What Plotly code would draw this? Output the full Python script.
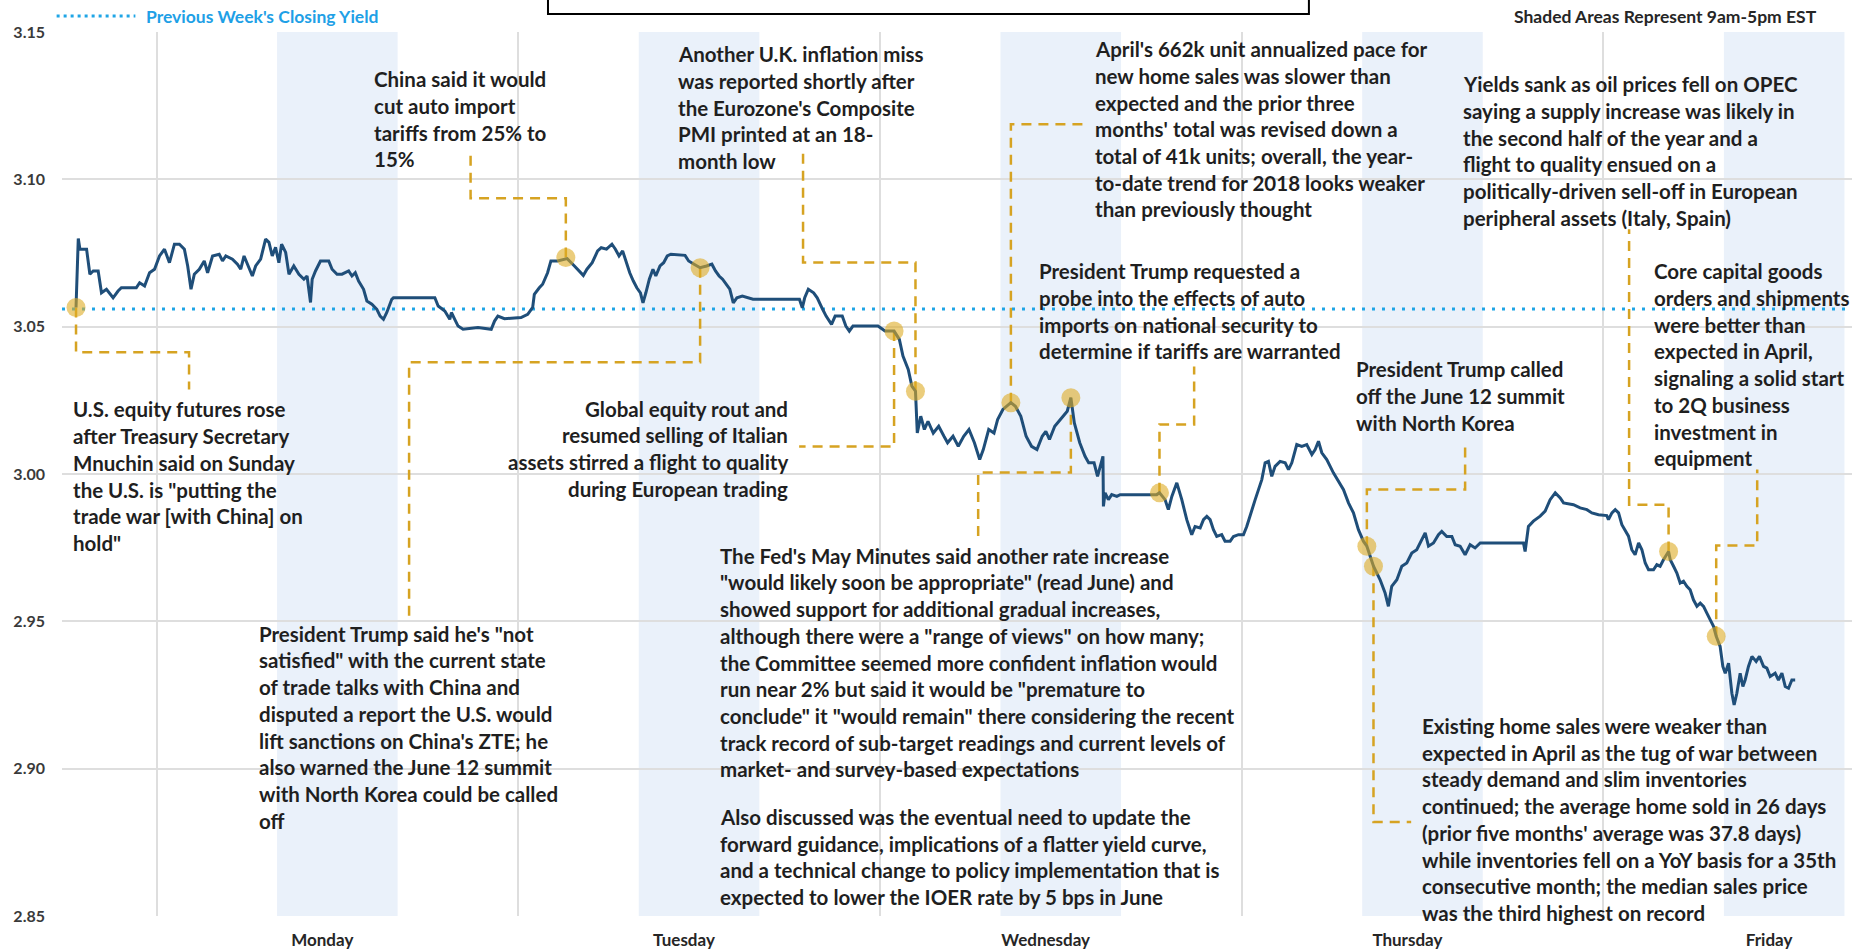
import plotly.graph_objects as go

# ---------------- data ----------------
# x: hours since Sunday 00:00 (week of May 21-25, 2018); y: 10-year Treasury yield (%)
hours = [
    19.66, 19.81, 19.92, 20.36, 20.58, 20.80, 21.13, 21.35, 21.68, 22.12, 22.45, 22.67, 23.66, 23.88,
    24.21, 24.54, 24.87, 25.20, 25.53, 25.86, 26.19, 26.52, 26.85, 27.07, 27.29, 27.51, 27.84, 28.17,
    28.39, 28.72, 29.16, 29.38, 29.60, 30.04, 30.37, 30.59, 30.81, 31.03, 31.36, 31.58, 31.91, 32.24,
    32.46, 32.68, 32.90, 33.12, 33.30, 33.57, 33.79, 34.11, 34.45, 34.78, 34.99, 35.22, 35.33, 35.55,
    35.88, 36.43, 36.65, 36.98, 37.31, 37.75, 37.97, 38.19, 38.41, 38.74, 38.96, 39.29, 39.62, 39.84,
    40.06, 40.28, 40.61, 40.72, 43.47, 43.69, 44.13, 44.46, 44.57, 44.79, 45.01, 45.34, 46.33, 47.21,
    47.43, 47.65, 48.09, 49.19, 49.63, 49.96, 50.07, 50.40, 50.62, 50.95, 51.17, 51.61, 52.05,
    52.25, 52.73, 53.08, 53.32, 53.56, 53.91, 54.27, 54.51, 54.86, 55.22, 55.45, 55.69, 55.93, 56.16,
    56.40, 56.64, 56.87, 57.11, 57.28, 57.47, 57.70, 57.94, 58.13, 58.41, 58.65, 58.89, 59.13, 60.07,
    60.31, 60.67, 61.07, 61.50, 61.85, 62.09, 62.33, 62.56, 62.80, 63.04, 63.27, 63.51, 63.87, 64.34,
    64.58, 67.66, 67.85, 68.01, 68.25, 68.60, 68.84, 69.20, 69.43, 69.79, 70.03, 70.50, 70.74, 70.97,
    71.21, 72.87, 73.34, 73.94, 74.29, 74.53, 74.88, 75.12, 75.36, 75.48, 75.71, 75.95, 76.19, 76.54,
    76.90, 77.25, 77.49, 77.85, 78.20, 78.56, 78.91, 79.27, 79.62, 79.86, 80.22, 80.57, 80.81, 81.16,
    81.69, 81.99, 82.35, 82.70, 83.06, 83.42, 83.77, 84.01, 84.25, 84.60, 84.96, 85.43, 85.67, 85.90,
    86.26, 86.61, 86.85, 87.21, 87.44, 87.80,
    87.83, 87.94, 88.16, 88.38, 88.72, 88.94, 91.37, 91.55, 91.92, 92.14, 92.37, 92.70, 93.03, 93.36,
    93.69, 93.91, 94.25, 94.47, 94.69, 94.91, 95.13, 95.35, 95.68, 95.90, 96.24, 96.46, 96.79, 97.12,
    97.34, 97.67, 97.90, 98.12, 98.34, 98.56, 98.78, 99.00, 99.22, 99.55, 99.89, 100.11, 100.33, 100.66,
    100.99, 101.32, 101.66, 101.88, 102.10, 102.32, 102.65, 103.09, 103.42, 103.76, 104.09, 104.42,
    104.75, 105.08, 105.31, 105.64, 105.75, 106.19, 106.52, 106.74, 106.96, 107.30, 107.63, 107.96,
    108.29, 108.62, 108.95, 109.18, 109.40, 109.73, 110.06, 110.28, 110.61, 110.95, 111.17, 111.50,
    111.83, 112.16, 112.49, 112.83, 115.70, 115.81, 116.03, 116.36,
    116.81, 117.14, 117.47, 117.81, 118.14, 118.36, 119.02, 119.46, 119.91, 120.24, 120.68, 121.23,
    121.34, 121.57, 121.79, 122.01, 122.23, 122.45, 122.67, 122.89, 123.11, 123.34, 123.56, 123.78,
    124.00, 124.33, 124.55, 124.77, 124.99, 125.33, 125.44, 125.66, 125.88, 126.10, 126.32, 126.54,
    126.76, 126.98, 127.21, 127.43, 127.65, 127.87, 128.09, 128.31, 128.49, 128.75, 128.93, 129.09,
    129.31, 129.53, 129.68, 129.86, 130.08, 130.26, 130.41, 130.63, 130.86, 131.14, 131.36, 131.63,
    131.85, 132.07, 132.40, 132.62, 132.85, 133.07, 133.29, 133.51, 133.73,
]
yields = [
    3.0565, 3.0799, 3.0763, 3.0763, 3.0678, 3.0689, 3.0689, 3.0615, 3.0627, 3.0598, 3.0621, 3.0632, 3.0632, 3.0649,
    3.0638, 3.0683, 3.0695, 3.0740, 3.0763, 3.0717, 3.0780, 3.0780, 3.0763, 3.0706, 3.0627, 3.0678, 3.0695, 3.0723,
    3.0683, 3.0740, 3.0746, 3.0723, 3.0740, 3.0729, 3.0712, 3.0695, 3.0740, 3.0712, 3.0672, 3.0706, 3.0729, 3.0797,
    3.0786, 3.0740, 3.0769, 3.0717, 3.0780, 3.0752, 3.0678, 3.0706, 3.0678, 3.0661, 3.0672, 3.0582, 3.0661, 3.0689,
    3.0723, 3.0723, 3.0695, 3.0678, 3.0678, 3.0689, 3.0672, 3.0683, 3.0655, 3.0627, 3.0587, 3.0576, 3.0559, 3.0536,
    3.0525, 3.0548, 3.0593, 3.0598, 3.0598, 3.0570, 3.0553, 3.0525, 3.0548, 3.0525, 3.0502, 3.0491, 3.0497, 3.0491,
    3.0519, 3.0536, 3.0527, 3.0531, 3.0542, 3.0565, 3.0610, 3.0632, 3.0644, 3.0683, 3.0723, 3.0723, 3.0729,
    3.0731, 3.0706, 3.0689, 3.0674, 3.0695, 3.0717, 3.0757, 3.0768, 3.0763, 3.0780, 3.0763, 3.0740, 3.0757, 3.0717,
    3.0683, 3.0655, 3.0632, 3.0615, 3.0581, 3.0615, 3.0661, 3.0695, 3.0672, 3.0706, 3.0717, 3.0740, 3.0746, 3.0742,
    3.0723, 3.0712, 3.0700, 3.0706, 3.0712, 3.0689, 3.0672, 3.0661, 3.0644, 3.0627, 3.0581, 3.0598, 3.0604, 3.0598,
    3.0593, 3.0593, 3.0564, 3.0598, 3.0627, 3.0615, 3.0598, 3.0559, 3.0536, 3.0508, 3.0536, 3.0536, 3.0502, 3.0485,
    3.0502, 3.0502, 3.0485, 3.0485, 3.0457, 3.0400, 3.0355, 3.0298, 3.0281, 3.0139, 3.0196, 3.0151, 3.0179, 3.0139,
    3.0162, 3.0128, 3.0106, 3.0128, 3.0094, 3.0128, 3.0151, 3.0106, 3.0049, 3.0083, 3.0151, 3.0139, 3.0185, 3.0219,
    3.0242, 3.0230, 3.0196, 3.0128, 3.0094, 3.0083, 3.0128, 3.0145, 3.0117, 3.0162, 3.0185, 3.0213, 3.0259, 3.0173,
    3.0106, 3.0060, 3.0038, 3.0038, 2.9992, 3.0060,
    2.9890, 2.9936, 2.9913, 2.9930, 2.9924, 2.9930, 2.9930, 2.9936, 2.9913, 2.9879, 2.9924, 2.9970, 2.9913, 2.9845,
    2.9794, 2.9822, 2.9817, 2.9845, 2.9856, 2.9845, 2.9811, 2.9788, 2.9794, 2.9772, 2.9772, 2.9788, 2.9794, 2.9794,
    2.9822, 2.9879, 2.9913, 2.9947, 2.9981, 3.0038, 3.0043, 2.9992, 3.0026, 3.0043, 3.0038, 3.0015, 3.0038, 3.0100,
    3.0094, 3.0100, 3.0066, 3.0083, 3.0111, 3.0072, 3.0049, 3.0004, 2.9975, 2.9947, 2.9902, 2.9868,
    2.9811, 2.9772, 2.9755, 2.9709, 2.9687, 2.9641, 2.9596, 2.9551, 2.9619, 2.9641, 2.9687, 2.9698,
    2.9732, 2.9743, 2.9777, 2.9800, 2.9755, 2.9766, 2.9794, 2.9805, 2.9788, 2.9788, 2.9760, 2.9755,
    2.9726, 2.9760, 2.9749, 2.9766, 2.9766, 2.9737, 2.9822, 2.9840,
    2.9857, 2.9874, 2.9913, 2.9936, 2.9919, 2.9902, 2.9896, 2.9885, 2.9879, 2.9868, 2.9862, 2.9859,
    2.9845, 2.9868, 2.9879, 2.9868, 2.9828, 2.9806, 2.9789, 2.9743, 2.9726, 2.9766, 2.9743, 2.9698,
    2.9675, 2.9675, 2.9692, 2.9687, 2.9709, 2.9737, 2.9709, 2.9687, 2.9664, 2.9630, 2.9636, 2.9619,
    2.9607, 2.9573, 2.9551, 2.9562, 2.9551, 2.9528, 2.9505, 2.9483, 2.9449, 2.9415, 2.9347, 2.9324,
    2.9358, 2.9256, 2.9216, 2.9256, 2.9324, 2.9279, 2.9301, 2.9347, 2.9381, 2.9364, 2.9381, 2.9347,
    2.9341, 2.9313, 2.9324, 2.9301, 2.9324, 2.9279, 2.9273, 2.9301, 2.9301,
]

prev_week_close = 3.056

# highlighted events (yellow dots)
event_hours = [19.66, 52.16, 61.07, 73.94, 75.36, 81.69, 85.67, 91.55, 105.31, 105.75, 125.33, 128.49]
event_yields = [3.0565, 3.0735, 3.0700, 3.0485, 3.0281, 3.0242, 3.0259, 2.9936, 2.9755, 2.9687, 2.9737, 2.9449]

day_labels = ["Monday", "Tuesday", "Wednesday", "Thursday", "Friday"]
day_label_hours = [36, 60, 84, 108, 132]
day_separator_hours = [25, 49, 73, 97, 121]
session_start_hours = [33, 57, 81, 105, 129]   # 9am
session_end_hours = [41, 65, 89, 113, 137]     # 5pm
y_tick_values = [2.85, 2.90, 2.95, 3.00, 3.05, 3.10, 3.15]
x_range = [18.73, 137.5]
y_range = [2.85, 3.15]

# ---------------- annotation content ----------------
LINE_STEP = 0.00907  # vertical distance between text lines, in yield units

notes = [
    # (lines, x, y of first line, anchor)
    (["U.S. equity futures rose", "after Treasury Secretary", "Mnuchin said on Sunday",
      "the U.S. is \"putting the", "trade war [with China] on", "hold\""], 19.33, 3.0219, "left"),
    (["China said it would", "cut auto import", "tariffs from 25% to", "15%"], 39.30, 3.1340, "left"),
    (["Another U.K. inflation miss", "was reported shortly after", "the Eurozone's Composite",
      "PMI printed at an 18-", "month low"], 59.48, 3.1425, "left"),
    (["April's 662k unit annualized pace for", "new home sales was slower than",
      "expected and the prior three", "months' total was revised down a",
      "total of 41k units; overall, the year-", "to-date trend for 2018 looks weaker",
      "than previously thought"], 87.15, 3.1442, "left"),
    (["Yields sank as oil prices fell on OPEC", "saying a supply increase was likely in",
      "the second half of the year and a", "flight to quality ensued on a",
      "politically-driven sell-off in European", "peripheral assets (Italy, Spain)"], 111.57, 3.1323, "left"),
    (["President Trump requested a", "probe into the effects of auto",
      "imports on national security to", "determine if tariffs are warranted"], 83.43, 3.0688, "left"),
    (["Core capital goods", "orders and shipments", "were better than", "expected in April,",
      "signaling a solid start", "to 2Q business", "investment in", "equipment"], 124.24, 3.0688, "left"),
    (["President Trump called", "off the June 12 summit", "with North Korea"], 104.47, 3.0355, "left"),
    (["Global equity rout and", "resumed selling of Italian", "assets stirred a flight to quality",
      "during European trading"], 67.04, 3.0222, "right"),
    (["President Trump said he's \"not", "satisfied\" with the current state",
      "of trade talks with China and", "disputed a report the U.S. would",
      "lift sanctions on China's ZTE; he", "also warned the June 12 summit",
      "with North Korea could be called", "off"], 31.67, 2.9458, "left"),
    (["The Fed's May Minutes said another rate increase",
      "\"would likely soon be appropriate\" (read June) and",
      "showed support for additional gradual increases,",
      "although there were a \"range of views\" on how many;",
      "the Committee seemed more confident inflation would",
      "run near 2% but said it would be \"premature to",
      "conclude\" it \"would remain\" there considering the recent",
      "track record of sub-target readings and current levels of",
      "market- and survey-based expectations"], 62.26, 2.9723, "left"),
    (["Also discussed was the eventual need to update the",
      "forward guidance, implications of a flatter yield curve,",
      "and a technical change to policy implementation that is",
      "expected to lower the IOER rate by 5 bps in June"], 62.26, 2.8836, "left"),
    (["Existing home sales were weaker than", "expected in April as the tug of war between",
      "steady demand and slim inventories", "continued; the average home sold in 26 days",
      "(prior five months' average was 37.8 days)", "while inventories fell on a YoY basis for a 35th",
      "consecutive month; the median sales price", "was the third highest on record"], 108.85, 2.9145, "left"),
]

# elbow connectors from each event dot to its note (hours, yield)
connectors = [
    [(19.66, 3.0565), (19.66, 3.0413), (27.16, 3.0413), (27.16, 3.0287)],
    [(52.16, 3.0735), (52.16, 3.0936), (45.84, 3.0936), (45.84, 3.1102)],
    [(61.07, 3.0700), (61.07, 3.0379), (41.76, 3.0379), (41.76, 2.9516)],
    [(73.94, 3.0485), (73.94, 3.0093), (67.64, 3.0093)],
    [(75.36, 3.0281), (75.36, 3.0718), (67.90, 3.0718), (67.90, 3.1109)],
    [(81.69, 3.0242), (81.69, 3.1187), (86.75, 3.1187)],
    [(85.67, 3.0259), (85.67, 3.0005), (79.52, 3.0005), (79.52, 2.9777)],
    [(91.55, 2.9936), (91.55, 3.0168), (93.85, 3.0168), (93.85, 3.0365)],
    [(105.31, 2.9755), (105.31, 2.9947), (111.83, 2.9947), (111.83, 3.0110)],
    [(105.75, 2.9687), (105.75, 2.8819), (108.25, 2.8819)],
    [(125.33, 2.9737), (125.33, 2.9896), (122.71, 2.9896), (122.71, 3.0831)],
    [(128.49, 2.9449), (128.49, 2.9757), (131.21, 2.9757), (131.21, 3.0015)],
]

# ---------------- styles ----------------
LINE_COLOR = "#1f4e79"
DOT_BLUE = "#1fa5e6"
GOLD = "#d6a322"
SHADE = "#eaf1fa"
GRID = "#dedede"
TEXT_COLOR = "#1f1f1f"
FONT = "Lato"

fig = go.Figure()

# connectors
for pts in connectors:
    fig.add_trace(go.Scatter(
        x=[p[0] for p in pts], y=[p[1] for p in pts], mode="lines",
        line=dict(color=GOLD, width=2.5, dash="10px,7px"),
        hoverinfo="skip", showlegend=False))

# previous week's closing yield
fig.add_trace(go.Scatter(
    x=x_range, y=[prev_week_close, prev_week_close], mode="lines",
    line=dict(color=DOT_BLUE, width=3.2, dash="3px,7px"),
    hoverinfo="skip", showlegend=False))

# yield line
fig.add_trace(go.Scatter(
    x=hours, y=yields, mode="lines",
    line=dict(color=LINE_COLOR, width=3),
    showlegend=False, name="10-Year Yield"))

# event dots
fig.add_trace(go.Scatter(
    x=event_hours, y=event_yields, mode="markers",
    marker=dict(size=19, color="rgba(222,172,36,0.6)", line=dict(width=0)),
    showlegend=False, hoverinfo="skip"))

# shaded trading sessions
for s, e in zip(session_start_hours, session_end_hours):
    fig.add_shape(type="rect", xref="x", yref="paper", x0=s, x1=e, y0=0, y1=1,
                  fillcolor=SHADE, line=dict(width=0), layer="below")

# text notes (one annotation per line for exact spacing)
for lines, x, y0, anchor in notes:
    for i, t in enumerate(lines):
        fig.add_annotation(x=x, y=y0 - i * LINE_STEP, xref="x", yref="y", text=t,
                           showarrow=False, xanchor=anchor, yanchor="middle",
                           font=dict(family=FONT, size=20.5, color=TEXT_COLOR, weight=700))

# legend-like header
fig.add_shape(type="line", xref="paper", yref="paper", x0=-0.003, x1=0.041, y0=1.018, y1=1.018,
              line=dict(color=DOT_BLUE, width=3, dash="3px,4px"))
fig.add_annotation(x=0.0458, y=1.018, xref="paper", yref="paper", xanchor="left", yanchor="middle",
                   text="Previous Week's Closing Yield", showarrow=False,
                   font=dict(family=FONT, size=17.5, color="#1ea0e6", weight=700))
fig.add_annotation(x=0.9816, y=1.018, xref="paper", yref="paper", xanchor="right", yanchor="middle",
                   text="Shaded Areas Represent 9am-5pm EST", showarrow=False,
                   font=dict(family=FONT, size=17.5, color="#262626", weight=700))
# title box (cropped at top)
fig.add_shape(type="rect", xref="paper", yref="paper", x0=0.2715, x1=0.6966, y0=1.0205, y1=1.06,
              line=dict(color="black", width=2), fillcolor="rgba(0,0,0,0)")

fig.update_layout(
    width=1867, height=950,
    margin=dict(l=62, r=15, t=32, b=34),
    paper_bgcolor="white", plot_bgcolor="white",
    font=dict(family=FONT, color=TEXT_COLOR),
    xaxis=dict(range=x_range, tickmode="array", tickvals=day_label_hours, ticktext=day_labels,
               showgrid=False, zeroline=False, showline=False, ticks="", automargin=False,
               ticklabelstandoff=12,
               tickfont=dict(family=FONT, size=17, color="#262626", weight=700),
               minor=dict(tickmode="array", tickvals=day_separator_hours, showgrid=True,
                          gridcolor=GRID, gridwidth=2, ticks="")),
    yaxis=dict(range=y_range, tickmode="array", tickvals=y_tick_values, tickformat=".2f",
               showgrid=True, gridcolor=GRID, gridwidth=2, zeroline=False, showline=False,
               ticks="", ticklabelstandoff=16, automargin=False,
               tickfont=dict(family=FONT, size=16, color="#3a3a3a", weight=700)),
    showlegend=False,
)

fig.write_html("out.html", config={"displayModeBar": False},
               post_script="document.body.style.margin='0';document.body.style.overflow='hidden';")
